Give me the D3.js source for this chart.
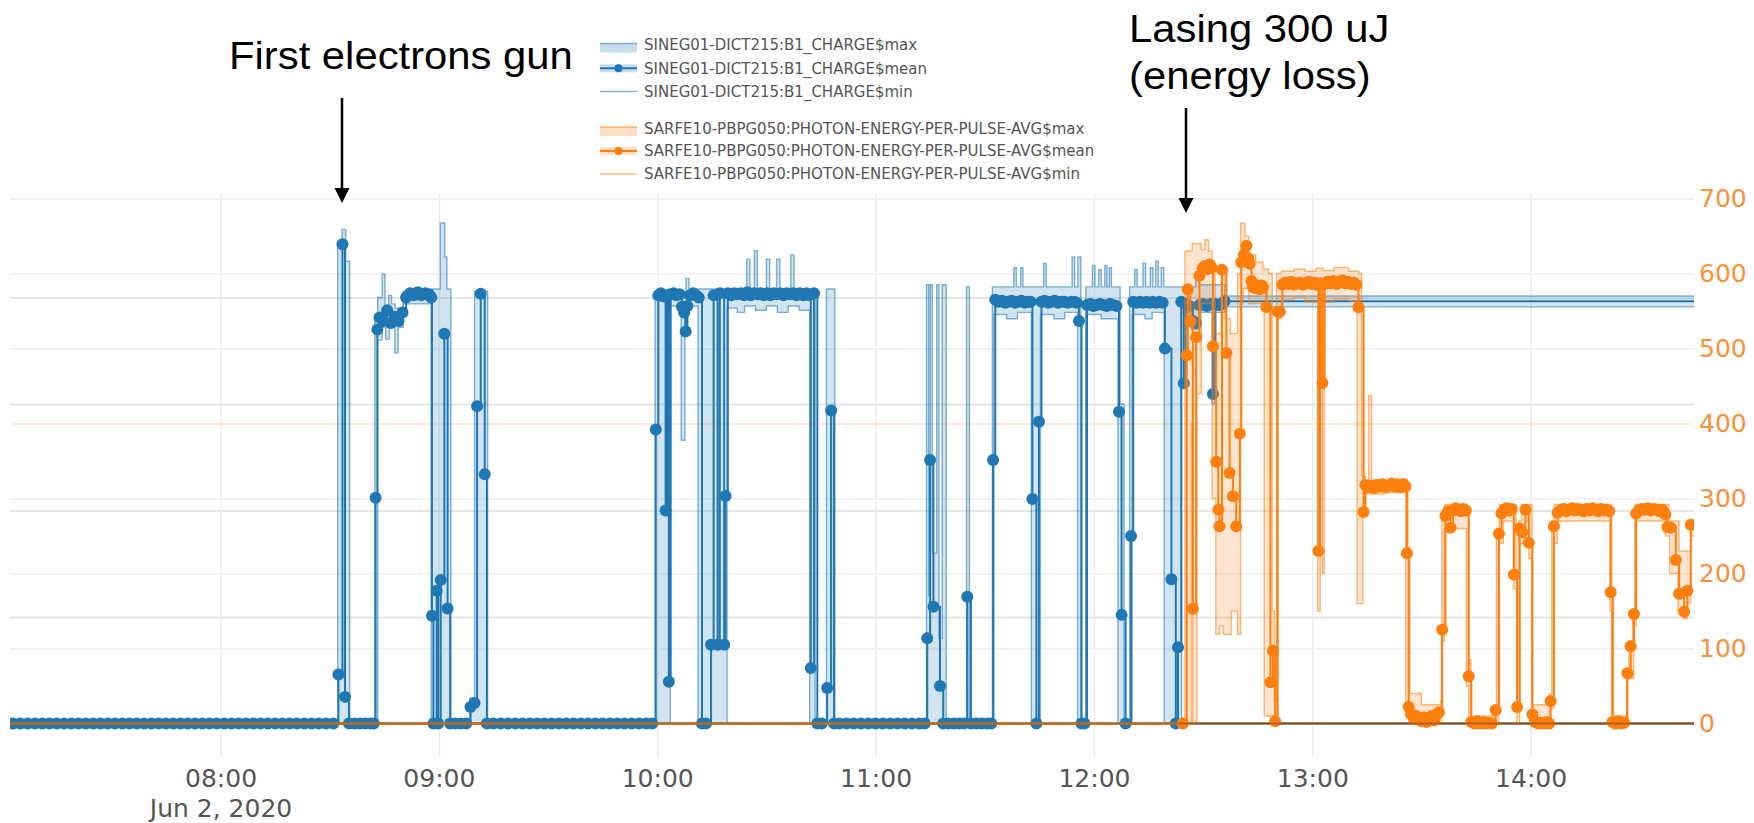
<!DOCTYPE html>
<html>
<head>
<meta charset="utf-8">
<script src="https://cdn.jsdelivr.net/npm/d3@7"></script>
<style>
  html, body { margin: 0; padding: 0; background: #fff; }
  svg { display: block; }
</style>
</head>
<body>
<svg id="chart" width="1754" height="823"></svg>
<script>
// ---------------------------------------------------------------
// Data — times are minutes after midnight on 2 June 2020.
// Charge in pC (left axis), photon pulse energy in uJ (right axis).
// ---------------------------------------------------------------

const chargeMean = [
  [423,0],[425,0],[427,0],[429,0],[431,0],[433,0],[435,0],[437,0],[439,0],[441,0],
  [443,0],[445,0],[447,0],[449,0],[451,0],[453,0],[455,0],[457,0],[459,0],[461,0],
  [463,0],[465,0],[467,0],[469,0],[471,0],[473,0],[475,0],[477,0],[479,0],[481,0],
  [483,0],[485,0],[487,0],[489,0],[491,0],[493,0],[495,0],[497,0],[499,0],[501,0],
  [503,0],[505,0],[507,0],[509,0],[511,0],
  [512.4,23],[513.5,225],[514.2,12.5],[515.3,0],[516.8,0],[518.3,0],[519.8,0],[521.3,0],[522.1,0],
  [522.6,106],[523.1,185],[523.7,190.6],[524.7,189],[525.8,194],[526.8,188],[527.9,191],[528.9,189],
  [530,193],[531,200],[532.1,202],[533.1,201],[534.2,202.5],[535.2,201],[536.3,202],[537.3,201.5],[537.9,200],
  [538.1,50.6],[538.5,0],[539.4,62.3],[539.8,0],[540.5,67.4],[541.5,183],[542.4,54],[543.1,0],
  [544.5,0],[546,0],[547.5,0],[548.7,7.8],[549.8,9.6],[550.5,149],[551.5,201.8],[552.6,117],[553.2,0],
  [555,0],[557,0],[559,0],[561,0],[563,0],[565,0],[567,0],[569,0],[571,0],[573,0],[575,0],
  [577,0],[579,0],[581,0],[583,0],[585,0],[587,0],[589,0],[591,0],[593,0],[595,0],[597,0],[598.6,0],
  [599.6,138],[600.3,201],[601,202],[601.7,200.5],[602.3,100],[602.8,201],[603.2,19.6],[603.7,201.5],
  [604.5,202],[605.3,201],[606.1,201.5],[606.8,195.7],[607.4,193],[607.8,184],[608.3,196],[609,201],
  [609.9,202],[610.7,201],[611.4,200],[612.3,0],[613.4,0],[614.8,37],[615.5,201],[616.6,37],[617.2,202],
  [618.4,37],[618.8,106.8],[619.4,202],
  [620.3,201],[621.2,202],[622.1,201.5],[623,202],[623.9,201],[624.8,202.5],[625.7,201],[626.6,202],
  [627.5,201.5],[628.4,202],[629.3,201],[630.2,202],[631.1,201],[632,202],[632.9,201.5],[633.8,202],
  [634.7,201],[635.6,202],[636.5,201.5],[637.4,202],[638.3,201],[639.2,202],[640.1,201],[641,202],[641.7,201],
  [642.2,26],[643.1,202],[644,0],[645.2,0],[646.7,16.7],[647.8,147],[648.6,0],
  [650,0],[652,0],[654,0],[656,0],[658,0],[660,0],[662,0],[664,0],[666,0],[668,0],[670,0],[672,0],[673.5,0],
  [674.2,40],[675,123.7],[675.9,54.8],[677.7,17.6],[678.6,0],[680,0],[681.5,0],[683,0],[684.3,0],
  [685.2,59.5],[686.2,0],[687.7,0],[689.2,0],[690.7,0],[691.8,0],[692.3,123.7],
  [692.9,199],[693.8,198],[694.7,198.5],[695.6,197.5],[696.5,198],[697.4,198.5],[698.3,197.5],[699.2,198],
  [700.1,198.5],[701,197.5],[701.9,198],[702.6,198],[703.1,105.4],[704.2,0],[704.9,141.7],
  [705.6,198],[706.5,198.5],[707.4,197.5],[708.3,198],[709.2,198.5],[710.1,197.5],[711,198],[711.9,198],
  [712.8,197.5],[713.7,198],[714.6,198],[715.3,197.5],[715.9,189],[716.6,0],[717.4,0],
  [718.1,196.5],[719,197],[719.9,196],[720.8,196.5],[721.7,197],[722.6,196.5],[723.5,196],[724.4,197],
  [725.3,196.5],[726.2,196],[726.9,146.4],[727.6,51],[728.7,0],[730.2,88],
  [730.8,198],[731.7,197.5],[732.6,198],[733.5,197.5],[734.4,198],[735.3,197.5],[736.2,198],[737.1,197.5],
  [738,198],[738.9,197.5],[739.5,176],[741.3,67.7],[742.5,0],[743.1,35.8],[744,198],[744.7,159.7],
  [745.2,197],[746.2,196],[747.2,189],[748.1,188],[749,196.5],[750,197],[751,196],[752,197],[752.7,154.7],
  [753.4,197],[754.3,196.5],[755.2,197],[755.9,198.2],[900,198.2]
];

const chargeMax = [
  [423,1.5],[512.2,226],[513.4,232],[514.4,217],[515.5,1.5],[522.4,192],[523.2,200],[524.4,211],
  [525.2,196],[526.2,201],[527,197],[528,195],[530.2,203],[538,204],[540.4,235],[541.6,219],[542.2,204],
  [543.3,1.5],[548.5,12],[549.8,203],[553.4,1.5],[599.4,203],[607.9,209],[608.7,204],
  [624.6,218],[625.5,204],[626.7,222],[627.5,204],[630,218],[630.9,204],[632.8,218],[633.7,204],
  [636.7,220],[637.6,204],[643.4,1.5],[646.5,204],[648.8,1.5],
  [674,206],[674.6,60],[675,206],[675.6,80],[676.8,206],[677.4,40],[678.3,206],[679.4,1.5],[685,205],[685.8,1.5],
  [692.1,205],[698,214],[698.7,205],[699.9,214],[700.5,205],[706.2,216],[706.9,205],[714,219],[714.7,205],
  [715.6,219],[716.4,1.5],[717.8,205],[719.6,215],[720.3,205],[721.3,213],[722,205],[723,215],[723.6,205],
  [724.2,214],[724.8,205],[727.2,150],[728.3,1.5],[729.8,205],[731.2,213],[731.9,205],[733.5,216],[734.2,205],
  [735.5,214],[736.2,205],[737,217],[737.7,205],[738.5,214],[739.2,205],[748,210],[749,206],[756,200.7],[900,200.7]
];

const chargeMin = [
  [423,0],[523.2,180],[524.4,186],[525.4,180.5],[526.4,186],[527.9,174],[528.8,186],[530.2,197],
  [537.9,0],[603.6,196],[606.6,133],[607.6,196],[611.2,0],[619.2,195],[622,193],[624,196],[627,194],
  [630,196],[633,193],[636,196],[639,194],[641.9,0],[692.5,192],[696,190],[699,193],[702.8,0],
  [705.3,192],[709,190],[712,193],[715.5,0],[717.8,192],[722,190],[726.6,0],[730.5,192],[734,190],
  [736,193],[739.3,0],[744.1,193],[746.8,185],[749,193],[752.5,150],[753.2,193],[756,195.6],[900,195.6]
];

const photonMean = [
  [420,0],[744.4,0],[745.5,491],[745.8,579],[746.5,536],[747.2,153],[748.1,515],[749,597],[749.9,607],
  [750.5,610],[751.2,606],[751.8,612],[752.3,608],[752.7,503],[753.6,349],[754.2,285],[754.5,263],
  [755.2,605],[756.4,494],[757.3,334],[758.2,303],[759.1,263],[760.1,386.5],[760.5,615],[761.2,625],
  [761.9,637],[762.4,620],[762.8,613],[763.3,590],[763.7,582],[764.2,585],[764.7,580],[765.2,583],
  [765.6,579],[766.1,584],[766.5,581],[767.4,555],[768.5,55],[769.2,97],[769.8,3],[770.5,549],[771.1,549],
  [771.8,585],[772.6,588],[773.4,586],[774.2,589],[775,585],[775.8,587],[776.6,588],[777.4,585],[778.2,587],
  [779,589],[779.8,586],[780.6,588],[781.3,585],[781.7,230],[782.2,587],[782.8,454],[783.4,586],[784.2,589],
  [785,587],[785.8,590],[786.6,586],[787.4,588],[788.2,591],[789,587],[789.8,589],[790.6,586],[791.4,588],
  [792.1,585],[792.7,555],
  [794.1,282],[794.6,318],[795.4,315],[796.2,317],[797,314],[797.8,318],[798.6,316],[799.4,319],[800.2,315],
  [801,317],[801.8,320],[802.6,316],[803.4,318],[804.2,315],[805,319],[805.6,316],[806,227],[806.5,22],
  [807.2,12],[807.9,8],[808.6,10],[809.3,5],[810,3],[810.7,8],[811.4,2],[812.1,6],[812.8,10],[813.5,4],
  [814.2,12],[814.8,15],[815.7,125],
  [816.6,277],[817.3,283],[818,261],[818.7,284],[819.4,287],[820.1,285],[820.8,283],[821.5,286],[822.2,284],
  [823,63],[823.7,2],[824.5,0],[825.3,3],[826.1,0],[826.9,2],[827.7,0],[828.5,1],[829.3,0],[830.4,18],
  [831.3,253],[832,280],[832.7,285],[833.4,287],[834.1,284],[834.8,286],[835.4,198.5],[836.3,22],[837,260],
  [837.7,255],[838.6,285],[839.5,241],[840.5,12],[841.2,2],[842,0],[842.8,1],[843.6,0],[844.4,2],[845.1,0],
  [845.5,30],[846.4,263],[847.4,281],[848.2,284],[849,286],[849.8,283],[850.6,285],[851.4,287],[852.2,284],
  [853,286],[853.8,285],[854.6,283],[855.4,286],[856.2,284],[857,287],[857.8,285],[858.6,283],[859.3,286],
  [860.1,284],[860.9,285],[861.6,283],[862,175],[862.5,2],[863.3,0],[864.1,3],[864.9,0],[865.7,1],
  [866.6,67],[867.5,103],[868.4,146],[869,280],[869.8,284],[870.6,286],[871.4,285],[872.2,287],[873,284],
  [873.8,286],[874.6,285],[875.4,283],[876.2,285],[877,279],[877.6,262],[878.5,261],[879.9,218],
  [880.8,173],[882.2,149],[883.1,177],[884,265]
];

const photonMax = [
  [420,0],[744.4,0],[745,630],[747,640],[749.5,632],[750.5,645],[751.5,630],[752.5,612],[753.3,520],
  [755,610],[756,540],[757.5,520],[759.5,600],[760.3,667],[761.5,650],[762.5,625],[764.5,615],[766.5,606],
  [768,600],[769,150],[769.6,30],[770.2,600],[771.5,603],[775,606],[778,603],[781,607],[783,604],[786,608],
  [790,603],[792.8,600],[793.6,330],[794.5,322],[795.5,437],[796.3,322],[797,325],[800,323],[803,326],
  [806,323],[806.3,235],[806.8,40],[810,25],[815.2,30],[815.6,270],[816.4,292],[822.4,290],[823,85],
  [823.6,10],[829.9,20],[830.6,260],[831.4,292],[835.3,292],[836,205],[836.7,270],[837.5,292],[840.4,25],
  [845.2,40],[845.8,270],[846.5,292],[862,292],[862.3,180],[862.8,10],[866.4,70],[867,110],[868,150],
  [868.6,292],[877.4,292],[878,270],[880.8,230],[884,270],[890,270]
];

const photonMin = [
  [420,0],[746.8,400],[747.1,0],[748.3,440],[749.5,560],[752.5,300],[753.5,119],[754.5,130],[755.6,119],
  [757.8,150],[759.5,119],[760.3,560],[761,580],[762.5,560],[766.8,10],[769.5,0],[770.3,540],[771.5,565],
  [775,568],[778,562],[781.5,150],[782.2,565],[782.8,200],[783.3,562],[786,566],[790,563],[792.3,160],
  [793.9,280],[794.5,306],[800,308],[805.7,10],[806.5,0],[815.5,110],[816.3,260],[822.3,50],[823,0],
  [831.2,240],[832.5,270],[835.3,180],[836.2,0],[837,240],[838.5,270],[839.5,220],[840.4,0],[845.4,20],
  [846.3,240],[847.3,270],[861.8,150],[862.3,0],[866.5,60],[868.3,130],[869,270],[877,250],[878.2,200],
  [880.5,150],[882,140],[883,160],[884,250],[890,250]
];

const chargeNames = [
  "SINEG01-DICT215:B1_CHARGE$max",
  "SINEG01-DICT215:B1_CHARGE$mean",
  "SINEG01-DICT215:B1_CHARGE$min"
];
const photonNames = [
  "SARFE10-PBPG050:PHOTON-ENERGY-PER-PULSE-AVG$max",
  "SARFE10-PBPG050:PHOTON-ENERGY-PER-PULSE-AVG$mean",
  "SARFE10-PBPG050:PHOTON-ENERGY-PER-PULSE-AVG$min"
];

const hourTicks = [480, 540, 600, 660, 720, 780, 840];   // 08:00 … 14:00
const energyTicks = [0, 100, 200, 300, 400, 500, 600, 700];
const chargeGridTicks = [50, 100, 150, 200];
const timeRange = [422.15, 884.9];

const notes = [
  { lines: ["First electrons gun"], at: 513.5 },
  { lines: ["Lasing 300 uJ", "(energy loss)"], at: 745.2 }
];

// ---------------------------------------------------------------
// Layout
// ---------------------------------------------------------------
const plot = { left: 10, right: 1694, top: 194, bottom: 757 };
const BLUE = "#1f77b4", ORANGE = "#ff7f0e";
const dayStart = new Date(2020, 5, 2, 0, 0, 0);
const at = m => new Date(dayStart.getTime() + m * 60000);

const svg = d3.select("#chart");

const x = d3.scaleTime()
  .domain(timeRange.map(at))
  .range([plot.left, plot.right]);

// both value axes share the same zero line
const yEnergy = d3.scaleLinear().domain([0, 700]).range([723.5, 198.5]);
const yCharge = d3.scaleLinear().domain([0, 200]).range([723.5, 297.5]);

svg.append("defs").append("clipPath").attr("id", "plotclip")
  .append("rect")
  .attr("x", plot.left).attr("y", plot.top)
  .attr("width", plot.right - plot.left).attr("height", plot.bottom - plot.top);

// ---------------- grid ----------------
const grid = svg.append("g");

grid.append("g")
  .attr("transform", `translate(0,${plot.bottom})`)
  .call(d3.axisBottom(x).tickValues(hourTicks.map(at))
    .tickSize(-(plot.bottom - plot.top)).tickFormat(""))
  .call(g => g.select(".domain").remove())
  .call(g => g.selectAll("line").attr("stroke", "#ececec").attr("stroke-width", 1.5));

grid.append("g")
  .attr("transform", `translate(${plot.right},0)`)
  .call(d3.axisLeft(yEnergy).tickValues(energyTicks.filter(v => v > 0))
    .tickSize(plot.right - plot.left).tickFormat(""))
  .call(g => g.select(".domain").remove())
  .call(g => g.selectAll("line")
    .attr("stroke", d => d === 400 ? "#fcebdc" : "#f3f3f3")
    .attr("stroke-width", 2));

grid.append("g")
  .attr("transform", `translate(${plot.left},0)`)
  .call(d3.axisRight(yCharge).tickValues(chargeGridTicks)
    .tickSize(plot.right - plot.left).tickFormat(""))
  .call(g => g.select(".domain").remove())
  .call(g => g.selectAll("line").attr("stroke", "#e6e6e6").attr("stroke-width", 2));

// ---------------- traces ----------------
const stepLine = yScale => d3.line()
  .x(d => x(at(d[0])))
  .y(d => yScale(d[1]))
  .curve(d3.curveStepAfter);

function stepPoints(pts) {
  const out = [];
  pts.forEach((p, i) => {
    out.push(p);
    if (i < pts.length - 1) out.push([pts[i + 1][0], p[1]]);
  });
  return out;
}

function bandPath(maxPts, minPts, yScale) {
  const upper = stepPoints(maxPts);
  const lower = stepPoints(minPts).reverse();
  return d3.line().x(d => x(at(d[0]))).y(d => yScale(d[1]))(upper.concat(lower)) + "Z";
}

const traces = svg.append("g").attr("clip-path", "url(#plotclip)");

function drawChannel(maxPts, meanPts, minPts, yScale, color, fill) {
  const g = traces.append("g");
  g.append("path").attr("d", bandPath(maxPts, minPts, yScale))
    .attr("fill", fill).attr("stroke", "none");
  [maxPts, minPts].forEach(pts => {
    g.append("path").attr("d", stepLine(yScale)(pts))
      .attr("fill", "none").attr("stroke", color)
      .attr("stroke-opacity", 0.55).attr("stroke-width", 1.4);
  });
  g.append("path").attr("d", stepLine(yScale)(meanPts))
    .attr("fill", "none").attr("stroke", color).attr("stroke-width", 2);
  return g;
}

const chargeG = drawChannel(chargeMax, chargeMean, chargeMin, yCharge, BLUE, "rgba(31,119,180,0.2)");
chargeG.append("g").selectAll("circle")
  .data(chargeMean).join("circle")
  .attr("cx", d => x(at(d[0]))).attr("cy", d => yCharge(d[1]))
  .attr("r", 6).attr("fill", BLUE);

// zero line shared by both value axes
traces.append("line")
  .attr("x1", plot.left).attr("x2", plot.right)
  .attr("y1", yEnergy(0)).attr("y2", yEnergy(0))
  .attr("stroke", "#7d4a1c").attr("stroke-width", 2);

const photonG = drawChannel(photonMax, photonMean, photonMin, yEnergy, ORANGE, "rgba(255,127,14,0.2)");
photonG.append("g").selectAll("circle")
  .data(photonMean).join("circle")
  .attr("cx", d => x(at(d[0]))).attr("cy", d => yEnergy(d[1]))
  .attr("r", 6).attr("fill", ORANGE);

// darken the zero line where it runs through the charge markers and after lasing starts
traces.append("line")
  .attr("x1", plot.left).attr("x2", x(at(744.4)))
  .attr("y1", yEnergy(0)).attr("y2", yEnergy(0))
  .attr("stroke", "#6f5a40").attr("stroke-opacity", 0.55).attr("stroke-width", 2);
traces.append("line")
  .attr("x1", x(at(744.4))).attr("x2", plot.right)
  .attr("y1", yEnergy(0)).attr("y2", yEnergy(0))
  .attr("stroke", "#7d4a1c").attr("stroke-opacity", 0.6).attr("stroke-width", 2);

// ---------------- axes ----------------
const fmtHour = d3.timeFormat("%H:%M");
const fmtDay = d3.timeFormat("%b %-d, %Y");

const xAxis = svg.append("g")
  .attr("transform", `translate(0,${plot.bottom})`)
  .call(d3.axisBottom(x).tickValues(hourTicks.map(at)).tickSize(0).tickPadding(12).tickFormat(fmtHour));
xAxis.select(".domain").remove();
xAxis.selectAll("text")
  .attr("font-family", "'DejaVu Sans', Verdana, sans-serif")
  .attr("font-size", 25).attr("fill", "#555");
xAxis.selectAll(".tick").filter((d, i) => i === 0).select("text")
  .append("tspan").attr("x", 0).attr("dy", "1.2em").text(d => fmtDay(d));

const yAxisR = svg.append("g")
  .attr("transform", `translate(${plot.right},0)`)
  .call(d3.axisRight(yEnergy).tickValues(energyTicks).tickSize(0).tickPadding(5));
yAxisR.select(".domain").remove();
yAxisR.selectAll("text")
  .attr("font-family", "'DejaVu Sans', Verdana, sans-serif")
  .attr("font-size", 25).attr("fill", "#f9913a");

// ---------------- legend ----------------
const legend = svg.append("g").attr("font-family", "'DejaVu Sans', Verdana, sans-serif");
const legendRows = [
  { names: chargeNames, color: BLUE, fill: "rgba(31,119,180,0.25)", ys: [45, 68.3, 91.5] },
  { names: photonNames, color: ORANGE, fill: "rgba(255,127,14,0.25)", ys: [128.5, 151, 174] }
];
legendRows.forEach(grp => {
  grp.names.forEach((name, k) => {
    const y = grp.ys[k];
    const row = legend.append("g");
    if (k === 0) {
      row.append("rect").attr("x", 600).attr("y", y - 1.5).attr("width", 37).attr("height", 9).attr("fill", grp.fill);
      row.append("line").attr("x1", 600).attr("x2", 637).attr("y1", y - 1.5).attr("y2", y - 1.5)
        .attr("stroke", grp.color).attr("stroke-opacity", 0.55).attr("stroke-width", 1.5);
    } else if (k === 1) {
      row.append("rect").attr("x", 600).attr("y", y - 4).attr("width", 37).attr("height", 8).attr("fill", grp.fill);
      row.append("line").attr("x1", 600).attr("x2", 637).attr("y1", y).attr("y2", y)
        .attr("stroke", grp.color).attr("stroke-width", 2);
      row.append("circle").attr("cx", 618.5).attr("cy", y).attr("r", 4).attr("fill", grp.color);
    } else {
      row.append("line").attr("x1", 600).attr("x2", 637).attr("y1", y).attr("y2", y)
        .attr("stroke", grp.color).attr("stroke-opacity", 0.55).attr("stroke-width", 1.4);
    }
    row.append("text").attr("x", 644).attr("y", y).attr("dy", "0.36em")
      .attr("font-size", 15).attr("fill", "#555").text(name);
  });
});

// ---------------- annotations ----------------
const noteFont = "'Liberation Sans', Arial, sans-serif";
const noteLayout = [
  { textX: 229, baselines: [69], arrowTop: 98, arrowTip: 203 },
  { textX: 1129, baselines: [42, 89], arrowTop: 108, arrowTip: 213 }
];
notes.forEach((n, i) => {
  const L = noteLayout[i];
  n.lines.forEach((s, j) => {
    const t = svg.append("text")
      .attr("x", L.textX).attr("y", L.baselines[j])
      .attr("font-family", noteFont).attr("font-size", 38).attr("fill", "#000")
      .text(s);
    const w = t.node().getComputedTextLength();
    t.attr("textLength", w * 1.1).attr("lengthAdjust", "spacingAndGlyphs");
  });
  const ax = Math.round(x(at(n.at)));
  svg.append("line").attr("x1", ax).attr("x2", ax)
    .attr("y1", L.arrowTop).attr("y2", L.arrowTip - 12)
    .attr("stroke", "#000").attr("stroke-width", 2.5);
  svg.append("path")
    .attr("d", `M${ax - 7.5},${L.arrowTip - 15}L${ax + 7.5},${L.arrowTip - 15}L${ax},${L.arrowTip}Z`)
    .attr("fill", "#000");
});
</script>
</body>
</html>
